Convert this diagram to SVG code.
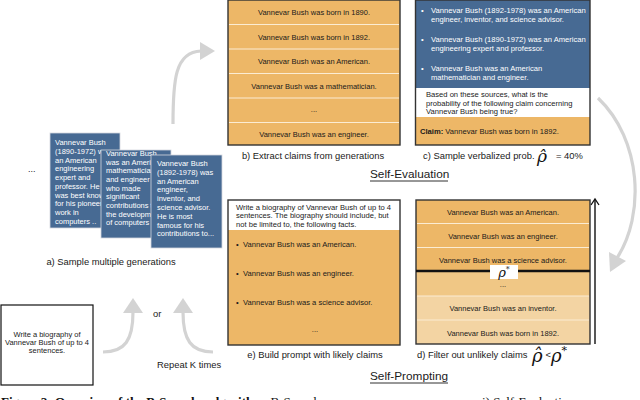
<svg xmlns="http://www.w3.org/2000/svg" width="640" height="400" viewBox="0 0 640 400">
<defs>
<style>
.t{font-family:"Liberation Sans",Arial,sans-serif;fill:#1a1a1a}
.w{font-family:"Liberation Sans",Arial,sans-serif;fill:#ffffff;font-size:7.6px}
.c{font-family:"Liberation Sans",Arial,sans-serif;fill:#ffffff;font-size:7.5px}
.r{font-family:"Liberation Sans",Arial,sans-serif;fill:#1a1a1a;font-size:7.5px;text-anchor:middle}
.k{font-family:"Liberation Sans",Arial,sans-serif;fill:#1a1a1a;font-size:7.6px}
.lab{font-family:"Liberation Sans",Arial,sans-serif;fill:#1a1a1a;font-size:9.4px}
.sec{font-family:"Liberation Sans",Arial,sans-serif;fill:#1a1a1a;font-size:11.8px}
.rho{font-family:"DejaVu Serif","Liberation Serif",serif;font-style:italic;fill:#111}
.box{stroke:#333;stroke-width:1.4}
.or{fill:#EDB767}
.card{fill:#476A93;stroke:#d4d8de;stroke-width:0.8}
.div{stroke:#fbecd3;stroke-width:1.2}
.garrow{fill:none;stroke:#d3d3d3;stroke-width:3.2}
.ghead{fill:#d3d3d3}
</style>
</defs>
<rect width="640" height="400" fill="#ffffff"/>

<g id="connectors">
<path class="garrow" d="M173,124 C173,80 175,52 201,51"/>
<polygon class="ghead" points="200,42 215,51 200,60"/>
<path class="garrow" d="M598,98 C642,140 645,215 617,258"/>
<polygon class="ghead" points="609,252 626,261 610,272"/>
<path class="garrow" d="M103,352 C125,352 133,340 133,312"/>
<polygon class="ghead" points="123,313 133,298 143,313"/>
<path class="garrow" d="M213,352 C191,352 183,340 183,312"/>
<polygon class="ghead" points="173,313 183,298 193,313"/>
<line x1="595" y1="344" x2="595" y2="200" stroke="#111" stroke-width="1.4"/>
<path d="M591,205 L595,199 L599,205" fill="none" stroke="#111" stroke-width="1.3"/>
</g>

<g id="generations">
<text class="t" x="28" y="172" font-size="9">...</text>
<g id="card1">
<rect class="card" x="50" y="133" width="70" height="95"/>
<text class="c" x="55" y="145">Vannevar Bush</text>
<text class="c" x="55" y="154">(1890-1972) was</text>
<text class="c" x="55" y="162.7">an American</text>
<text class="c" x="55" y="171.4">engineering</text>
<text class="c" x="55" y="180.1">expert and</text>
<text class="c" x="55" y="188.8">professor. He</text>
<text class="c" x="55" y="197.5">was best known</text>
<text class="c" x="55" y="206.2">for his pioneer</text>
<text class="c" x="55" y="214.9">work in</text>
<text class="c" x="55" y="223.6">computers ..</text>
</g>
<g id="card2">
<rect class="card" x="101" y="150" width="70" height="88"/>
<text class="c" x="106" y="155.5">Vannevar Bush</text>
<text class="c" x="106" y="164.5">was an American</text>
<text class="c" x="106" y="173.2">mathematician</text>
<text class="c" x="106" y="181.9">and engineer</text>
<text class="c" x="106" y="190.6">who made</text>
<text class="c" x="106" y="199.3">significant</text>
<text class="c" x="106" y="208">contributions to</text>
<text class="c" x="106" y="216.7">the development</text>
<text class="c" x="106" y="225.4">of computers</text>
</g>
<g id="card3">
<rect class="card" x="151" y="155" width="71" height="93"/>
<text class="c" x="157" y="166">Vannevar Bush</text>
<text class="c" x="157" y="174.8">(1892-1978) was</text>
<text class="c" x="157" y="183.6">an American</text>
<text class="c" x="157" y="192.4">engineer,</text>
<text class="c" x="157" y="201.2">inventor, and</text>
<text class="c" x="157" y="210">science advisor.</text>
<text class="c" x="157" y="218.8">He is most</text>
<text class="c" x="157" y="227.6">famous for his</text>
<text class="c" x="157" y="236.4">contributions to...</text>
</g>
<text class="lab" x="111" y="265" text-anchor="middle">a) Sample multiple generations</text>
</g>

<g id="claims">
<rect class="or box" x="228" y="0" width="172" height="145"/>
<line class="div" x1="229" y1="24.5" x2="399" y2="24.5"/>
<line class="div" x1="229" y1="49" x2="399" y2="49"/>
<line class="div" x1="229" y1="73.5" x2="399" y2="73.5"/>
<line class="div" x1="229" y1="98" x2="399" y2="98"/>
<line class="div" x1="229" y1="122.5" x2="399" y2="122.5"/>
<text class="r" x="314" y="15">Vannevar Bush was born in 1890.</text>
<text class="r" x="314" y="39.5">Vannevar Bush was born in 1892.</text>
<text class="r" x="314" y="64">Vannevar Bush was an American.</text>
<text class="r" x="314" y="88.5">Vannevar Bush was a mathematician.</text>
<text class="r" x="314" y="112">...</text>
<text class="r" x="314" y="137">Vannevar Bush was an engineer.</text>
<text class="lab" x="313" y="159" text-anchor="middle">b) Extract claims from generations</text>
</g>

<g id="verbalized">
<rect x="415.5" y="0" width="174.5" height="88" fill="#476A93"/>
<rect x="415.5" y="88" width="174.5" height="29" fill="#ffffff"/>
<rect class="or" x="415.5" y="117" width="174.5" height="28"/>
<rect x="415.5" y="0" width="174.5" height="145" fill="none" class="box"/>
<text class="w" x="421" y="12.5">•</text>
<text class="w" x="431" y="12.5">Vannevar Bush (1892-1978) was an American</text>
<text class="w" x="431" y="21.5">engineer, inventor, and science advisor.</text>
<text class="w" x="421" y="41.5">•</text>
<text class="w" x="431" y="41.5">Vannevar Bush (1890-1972) was an American</text>
<text class="w" x="431" y="50.5">engineering expert and professor.</text>
<text class="w" x="421" y="70.5">•</text>
<text class="w" x="431" y="70.5">Vannevar Bush was an American</text>
<text class="w" x="431" y="79.5">mathematician and engineer.</text>
<text class="k" x="426" y="97">Based on these sources, what is the</text>
<text class="k" x="426" y="105.5">probability of the following claim concerning</text>
<text class="k" x="426" y="114">Vannevar Bush being true?</text>
<text class="k" x="420" y="133.5"><tspan font-weight="bold">Claim:</tspan> Vannevar Bush was born in 1892.</text>
<text class="lab" x="423" y="159">c) Sample verbalized prob.</text>
<text class="rho" x="537" y="162" font-size="17">ρ̂</text>
<text class="lab" x="556" y="159">= 40%</text>
</g>

<text class="sec" x="370" y="178">Self-Evaluation</text>
<line x1="370" y1="181" x2="448" y2="181" stroke="#1a1a1a" stroke-width="0.9"/>

<g id="filter">
<rect class="or" x="416" y="200" width="174" height="71"/>
<rect x="416" y="271" width="174" height="25" fill="#F0C785"/>
<rect x="416" y="296" width="174" height="48" fill="#F3D4A3"/>
<line class="div" x1="417" y1="223.5" x2="589" y2="223.5"/>
<line class="div" x1="417" y1="247.5" x2="589" y2="247.5"/>
<line class="div" x1="417" y1="296" x2="589" y2="296"/>
<line class="div" x1="417" y1="320" x2="589" y2="320"/>
<rect x="416" y="200" width="174" height="144" fill="none" class="box"/>
<line x1="416" y1="271" x2="590" y2="271" stroke="#111" stroke-width="2.6"/>
<rect x="490" y="265" width="28" height="14" fill="#ffffff"/>
<text class="rho" x="504" y="277" font-size="13" text-anchor="middle">ρ<tspan font-size="8" dy="-5" font-style="normal">*</tspan></text>
<text class="r" x="503" y="214.5">Vannevar Bush was an American.</text>
<text class="r" x="503" y="238.5">Vannevar Bush was an engineer.</text>
<text class="r" x="503" y="262.5">Vannevar Bush was a science advisor.</text>
<text class="r" x="503" y="287">...</text>
<text class="r" x="503" y="310.5">Vannevar Bush was an inventor.</text>
<text class="r" x="503" y="335.5">Vannevar Bush was born in 1892.</text>
<text class="lab" x="417" y="358">d) Filter out unlikely claims</text>
<text class="rho" x="532" y="362" font-size="18">ρ̂</text>
<text class="lab" x="545.5" y="358" font-size="8">&lt;</text>
<text class="rho" x="551" y="362" font-size="18">ρ<tspan font-size="11" dy="-8" font-style="normal">*</tspan></text>
</g>

<text class="sec" x="370" y="380">Self-Prompting</text>
<line x1="370" y1="383" x2="448" y2="383" stroke="#1a1a1a" stroke-width="0.9"/>

<g id="prompt">
<rect x="228" y="200" width="172" height="30" fill="#ffffff"/>
<rect class="or" x="228" y="230" width="172" height="115"/>
<rect x="228" y="200" width="172" height="145" fill="none" class="box"/>
<text class="k" x="236" y="209.5">Write a biography of Vannevar Bush of up to 4</text>
<text class="k" x="236" y="218">sentences. The biography should include, but</text>
<text class="k" x="236" y="226.5">not be limited to, the following facts.</text>
<text class="k" x="236" y="247">•</text>
<text class="k" x="243" y="247">Vannevar Bush was an American.</text>
<text class="k" x="236" y="276">•</text>
<text class="k" x="243" y="276">Vannevar Bush was an engineer.</text>
<text class="k" x="236" y="305">•</text>
<text class="k" x="243" y="305">Vannevar Bush was a science advisor.</text>
<text class="r" x="315" y="332">...</text>
<text class="lab" x="315" y="358" text-anchor="middle">e) Build prompt with likely claims</text>
</g>

<g id="initial">
<rect x="1" y="305" width="92" height="80" fill="#ffffff" stroke="#111" stroke-width="1.2"/>
<text class="r" x="47" y="336.5">Write a biography of</text>
<text class="r" x="47" y="344.8">Vannevar Bush of up to 4</text>
<text class="r" x="47" y="353">sentences.</text>
</g>

<text class="lab" x="153" y="317">or</text>
<text class="lab" x="157" y="368">Repeat K times</text>

<text x="1" y="406" font-family="Liberation Serif,serif" font-size="13" fill="#111"><tspan font-weight="bold">Figure 2: Overview of the B-Sampler algorithm.</tspan> B-Sampler uses</text>
<text x="482" y="406" font-family="Liberation Serif,serif" font-size="13" fill="#111">i) Self-Evaluation</text>
</svg>
